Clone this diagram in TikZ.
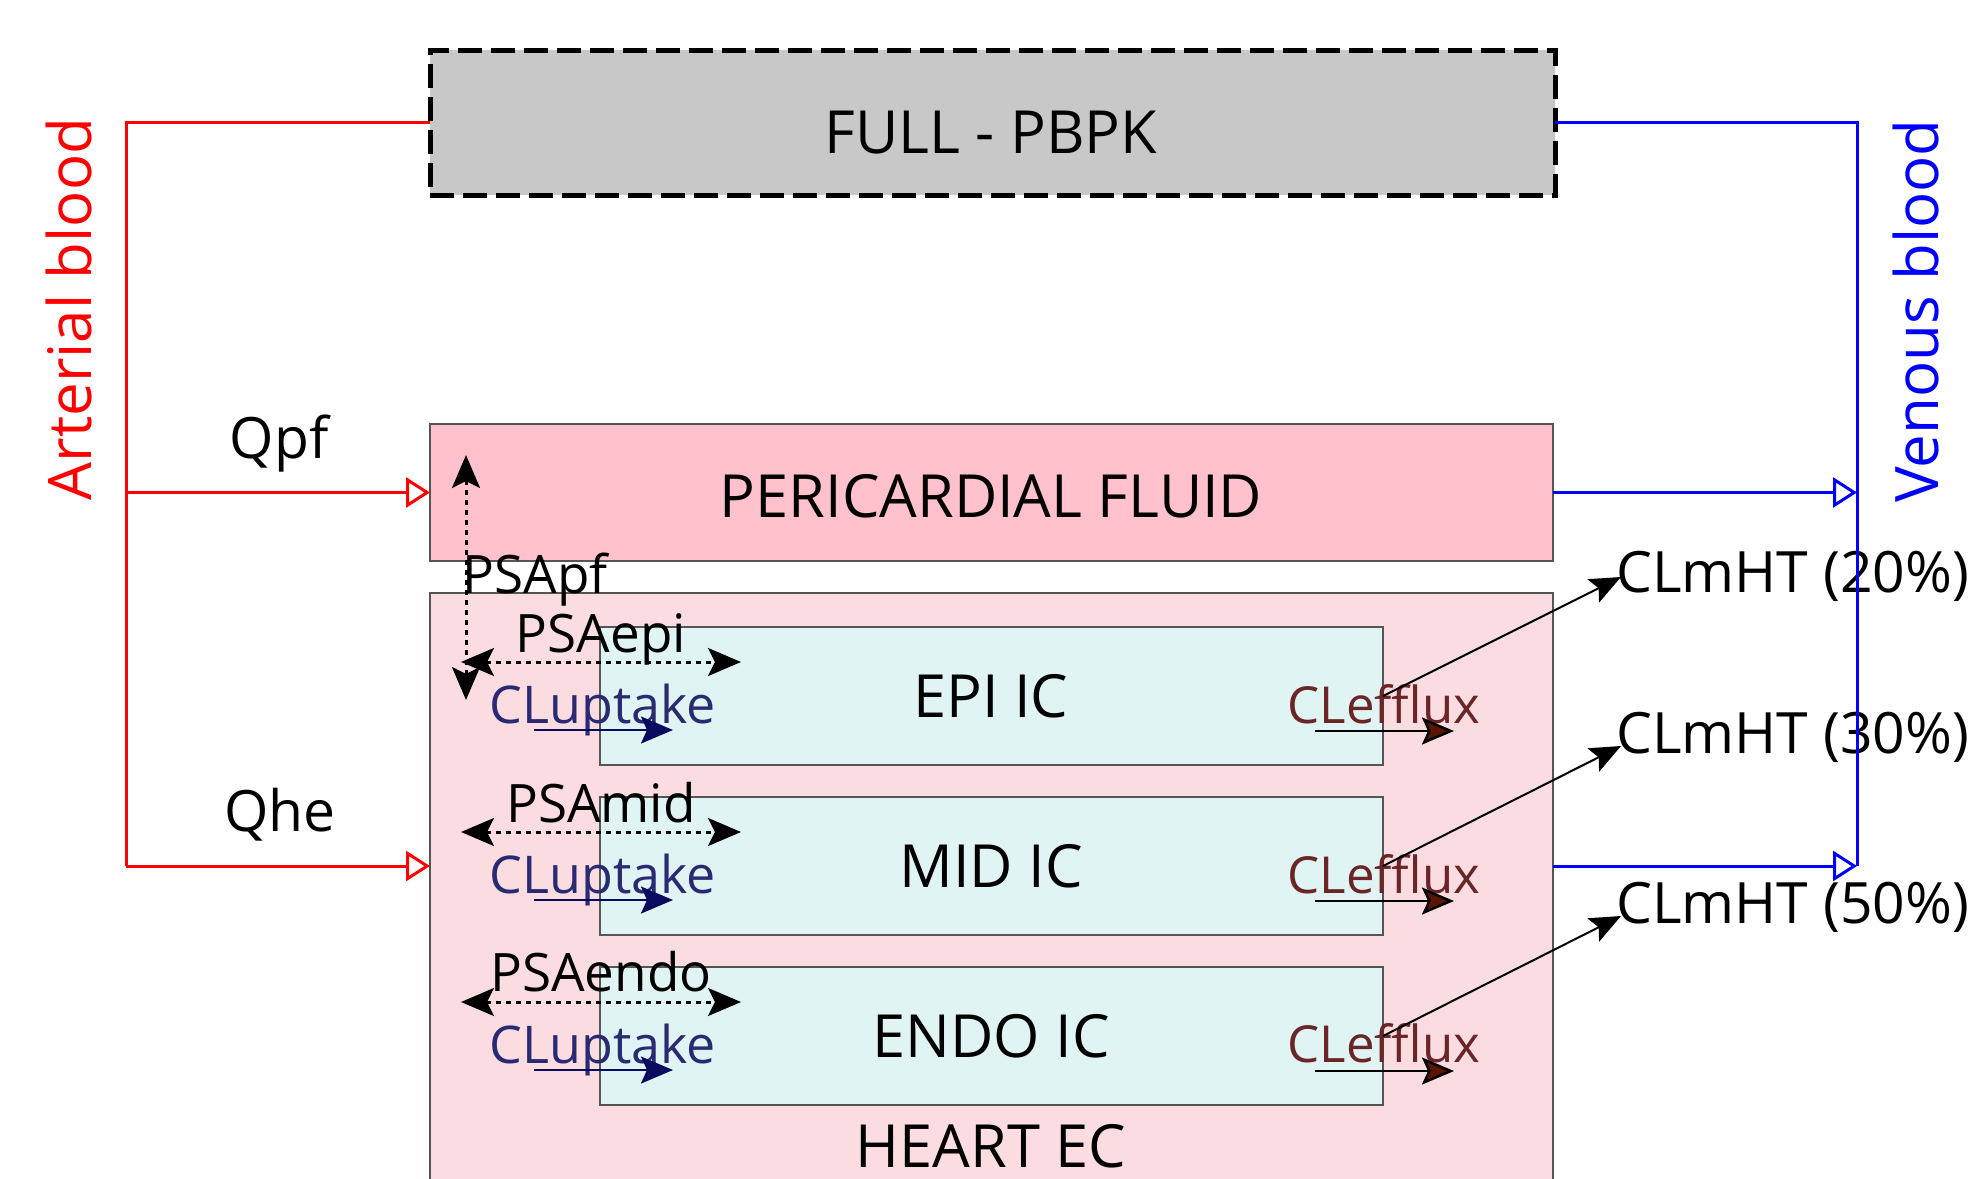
\documentclass[tikz,border=0pt]{standalone}
\usepackage{fontspec}
\setmainfont{Open Sans}
\usetikzlibrary{arrows.meta}

\definecolor{pbpkgray}{HTML}{C8C8C8}
\definecolor{pfpink}{HTML}{FFC1CB}
\definecolor{ecpink}{HTML}{FBDDE1}
\definecolor{iccyan}{HTML}{E0F4F3}
\definecolor{edgegray}{HTML}{555555}
\definecolor{upnavy}{HTML}{2A2A72}
\definecolor{upfill}{HTML}{0A0A5E}
\definecolor{efbrown}{HTML}{6A2626}
\definecolor{effill}{HTML}{5A1500}
\definecolor{artred}{HTML}{FF0000}
\definecolor{venblue}{HTML}{0000FF}

\tikzset{
  box/.style={draw=edgegray, line width=2pt, inner sep=0pt, outer sep=0pt},
  compbox/.style={box, minimum width=1123pt},
  icbox/.style={box, fill=iccyan, minimum width=783pt, minimum height=138pt},
  biglbl/.style={font=\fontsize{59.5}{70}\selectfont, inner sep=0pt, anchor=base},
  sidelbl/.style={font=\fontsize{60}{70}\selectfont, inner sep=0pt, anchor=base, rotate=90},
  qlbl/.style={font=\fontsize{57}{68}\selectfont, inner sep=0pt, anchor=base},
  psalbl/.style={font=\fontsize{53}{64}\selectfont, inner sep=0pt, anchor=base},
  uplbl/.style={font=\fontsize{52}{62}\selectfont, inner sep=0pt, anchor=base, text=upnavy},
  eflbl/.style={font=\fontsize{51}{62}\selectfont, inner sep=0pt, anchor=base, text=efbrown},
  mhtlbl/.style={font=\fontsize{57}{68}\selectfont, inner sep=0pt, anchor=base west},
  flowtip/.style={-{Triangle[open, length=24pt, width=30pt]}},
  artline/.style={draw=artred, line width=3pt},
  venline/.style={draw=venblue, line width=3pt},
  psa/.style={line width=3pt, dash pattern=on 5pt off 5pt,
    {Stealth[length=33pt, width=28pt, inset=7pt]}-{Stealth[length=33pt, width=28pt, inset=7pt]}},
  uparrow/.style={draw=upfill, line width=2.5pt,
    -{Stealth[length=32pt, width=27pt, inset=6pt, fill=upfill]}},
  efarrow/.style={draw=black, line width=2.5pt,
    -{Stealth[length=32pt, width=27pt, inset=6pt, fill=effill]}},
  mhtarrow/.style={draw=black, line width=2pt,
    -{Stealth[length=31pt, width=26pt, inset=6pt]}},
}

\begin{document}
\begin{tikzpicture}[x=1pt, y=-1pt]
  \useasboundingbox (0,0) rectangle (1972,1178);
  \clip (0,0) rectangle (1972,1178);

  % compartments
  \node[box, draw=black, line width=5pt, dash pattern=on 24pt off 9pt, fill=pbpkgray,
        minimum width=1125pt, minimum height=145pt] (pbpk) at (992.5,122.5) {};
  \node[compbox, fill=pfpink, minimum height=137pt] (pf) at (991.5,492.5) {};
  \node[compbox, fill=ecpink, minimum height=597pt] (hec) at (991.5,891.5) {};
  \node[icbox] (epi) at (991.5,696) {};
  \node[icbox] (mid) at (991.5,866) {};
  \node[icbox] (endo) at (991.5,1036) {};

  % compartment labels
  \node[biglbl] (pbpklbl) at (991,153) {FULL - PBPK};
  \node[biglbl] (pflbl) at (991,517) {PERICARDIAL FLUID};
  \node[biglbl] (epilbl) at (991,717) {EPI IC};
  \node[biglbl] (midlbl) at (991,887) {MID IC};
  \node[biglbl] (endolbl) at (991,1057) {ENDO IC};
  \node[biglbl] (heclbl) at (991,1167) {HEART EC};

  % blood labels
  \node[sidelbl, text=artred] (artlbl) at (91,309) {Arterial blood};
  \node[sidelbl, text=venblue] (venlbl) at (1938,311) {Venous blood};

  % flow labels
  \node[qlbl] (qpf) at (279,458) {Qpf};
  \node[qlbl] (qhe) at (280,831) {Qhe};

  % permeability labels
  \node[psalbl] (psapf) at (535,593) {PSApf};
  \node[psalbl] (psaepi) at (601,652) {PSAepi};
  \node[psalbl] (psamid) at (601,822) {PSAmid};
  \node[psalbl] (psaendo) at (601,991) {PSAendo};

  % clearance labels
  \node[uplbl] (upepi) at (603,723) {CLuptake};
  \node[uplbl] (upmid) at (603,893) {CLuptake};
  \node[uplbl] (upendo) at (603,1063) {CLuptake};
  \node[eflbl] (efepi) at (1384,723) {CLefflux};
  \node[eflbl] (efmid) at (1384,893) {CLefflux};
  \node[eflbl] (efendo) at (1384,1062) {CLefflux};
  \node[mhtlbl] (mht20) at (1616,592) {CLmHT (20\%)};
  \node[mhtlbl] (mht30) at (1616,753) {CLmHT (30\%)};
  \node[mhtlbl] (mht50) at (1616,923) {CLmHT (50\%)};

  % junction points and free arrow ends
  \coordinate (artTop) at (126,122.5);
  \coordinate (artMid) at (126,492.5);
  \coordinate (artBot) at (126,866);
  \coordinate (venTop) at (1857,122.5);
  \coordinate (venMid) at (1857,492.5);
  \coordinate (venBot) at (1857,866);

  \coordinate (pfTop) at (466,455);
  \coordinate (pfBot) at (466,700);
  \coordinate (epiL) at (461,662);  \coordinate (epiR) at (741,662);
  \coordinate (midL) at (461,832);  \coordinate (midR) at (741,832);
  \coordinate (endoL) at (461,1002); \coordinate (endoR) at (741,1002);

  \coordinate (upEpiA) at (534,730);   \coordinate (upEpiB) at (673,730);
  \coordinate (upMidA) at (534,900);   \coordinate (upMidB) at (673,900);
  \coordinate (upEndoA) at (534,1070); \coordinate (upEndoB) at (673,1070);
  \coordinate (efEpiA) at (1315,731);   \coordinate (efEpiB) at (1454,731);
  \coordinate (efMidA) at (1315,901);   \coordinate (efMidB) at (1454,901);
  \coordinate (efEndoA) at (1315,1071); \coordinate (efEndoB) at (1454,1071);

  \coordinate (mhtTip20) at (1621,577);
  \coordinate (mhtTip30) at (1621,746);
  \coordinate (mhtTip50) at (1621,916);

  % arterial blood supply
  \draw[artline] (pbpk.west) -- (artTop) -- (artBot);
  \draw[artline, flowtip] (artMid) -- (pf.west);
  \draw[artline, flowtip] (artBot) -- (artBot -| hec.west);

  % venous return
  \draw[venline] (pbpk.east) -- (venTop) -- (venBot);
  \draw[venline, flowtip] (pf.east) -- (venMid);
  \draw[venline, flowtip] (venBot -| hec.east) -- (venBot);

  % permeability exchange
  \draw[psa] (pfBot) -- (pfTop);
  \draw[psa] (epiL) -- (epiR);
  \draw[psa] (midL) -- (midR);
  \draw[psa] (endoL) -- (endoR);

  % uptake and efflux
  \draw[uparrow] (upEpiA) -- (upEpiB);
  \draw[uparrow] (upMidA) -- (upMidB);
  \draw[uparrow] (upEndoA) -- (upEndoB);
  \draw[efarrow] (efEpiA) -- (efEpiB);
  \draw[efarrow] (efMidA) -- (efMidB);
  \draw[efarrow] (efEndoA) -- (efEndoB);

  % metabolic clearance
  \draw[mhtarrow] (epi.east) -- (mhtTip20);
  \draw[mhtarrow] (mid.east) -- (mhtTip30);
  \draw[mhtarrow] (endo.east) -- (mhtTip50);
\end{tikzpicture}
\end{document}
